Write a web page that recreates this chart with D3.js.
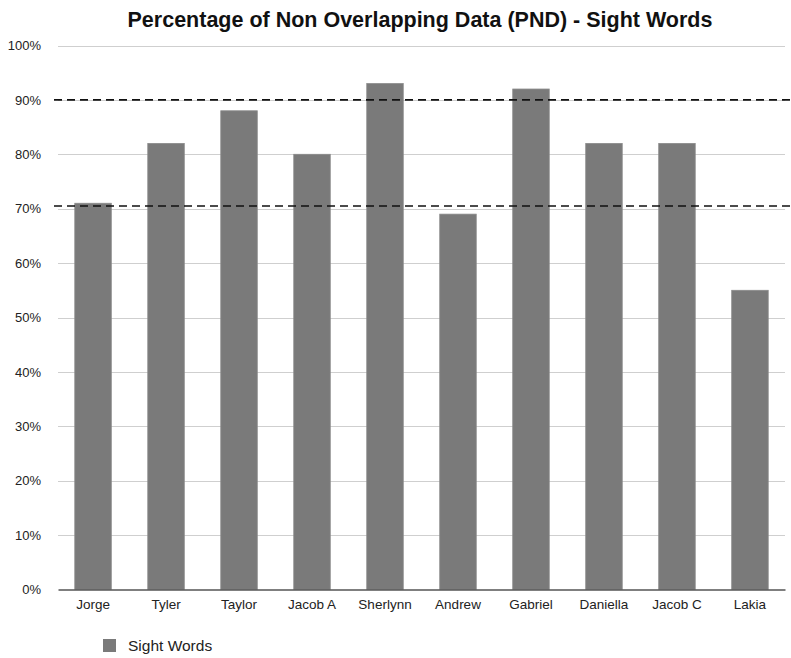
<!DOCTYPE html>
<html>
<head>
<meta charset="utf-8">
<script src="https://cdn.jsdelivr.net/npm/d3@7"></script>
<style>
  body { margin: 0; background: #fff; }
  text { font-family: "Liberation Sans", Arial, sans-serif; }
</style>
</head>
<body>
<div id="barchart"><svg width="791" height="658"></svg></div>
<script>
// data
var students = ["Jorge", "Tyler", "Taylor", "Jacob A", "Sherlynn", "Andrew", "Gabriel", "Daniella", "Jacob C", "Lakia"];
var sightWords = [71, 82, 88, 80, 93, 69, 92, 82, 82, 55];
var yTicks = [0, 10, 20, 30, 40, 50, 60, 70, 80, 90, 100];
var refLines = [90, 70.5];
var seriesName = "Sight Words";
var chartTitle = "Percentage of Non Overlapping Data (PND) - Sight Words";

var svg = d3.select("#barchart").select("svg");
var plotLeft = 58, plotRight = 785, plotTop = 45.5, plotBottom = 589.5;

var xScale = d3.scaleBand()
    .domain(students)
    .range([plotLeft, plotRight])
    .paddingInner(0.5)
    .paddingOuter(0.23);

var yScale = d3.scaleLinear()
    .domain([0, 100])
    .range([plotBottom, plotTop]);

svg.append("text")
    .attr("x", 420)
    .attr("y", 27)
    .attr("text-anchor", "middle")
    .attr("font-size", "21.5px")
    .attr("font-weight", "bold")
    .attr("fill", "#111")
    .text(chartTitle);

// gridlines
svg.selectAll(".grid")
    .data(yTicks.filter(d => d > 0))
    .enter()
    .append("line")
    .classed("grid", true)
    .attr("x1", plotLeft)
    .attr("x2", plotRight)
    .attr("y1", d => Math.round(yScale(d)) + 0.5)
    .attr("y2", d => Math.round(yScale(d)) + 0.5)
    .attr("stroke", "#cfcfcf")
    .attr("stroke-width", 1.2);

// y axis labels
var yAxis = d3.axisLeft(yScale)
    .tickValues(yTicks)
    .tickFormat(d => d + "%")
    .tickSize(0)
    .tickPadding(0);

var yg = svg.append("g")
    .attr("transform", "translate(41,0)")
    .call(yAxis);
yg.select(".domain").remove();
yg.selectAll("text")
    .attr("font-size", "13px")
    .attr("fill", "#222")
    .style("font-family", "'Liberation Sans', Arial, sans-serif");

// bars
svg.selectAll(".bar")
    .data(sightWords)
    .enter()
    .append("rect")
    .classed("bar", true)
    .attr("x", (d, i) => xScale(students[i]))
    .attr("y", d => yScale(d))
    .attr("width", xScale.bandwidth())
    .attr("height", d => plotBottom - yScale(d))
    .attr("fill", "#7a7a7a")
    .attr("stroke", "#8a8a8a")
    .attr("stroke-width", 0.8);

// baseline + x labels
var xAxis = d3.axisBottom(xScale)
    .tickSize(0)
    .tickPadding(10);

var xg = svg.append("g")
    .attr("transform", "translate(0," + plotBottom + ")")
    .call(xAxis);
xg.select(".domain")
    .attr("stroke", "#555")
    .attr("stroke-width", 1.5);
xg.selectAll("text")
    .attr("font-size", "13.5px")
    .attr("fill", "#222")
    .style("font-family", "'Liberation Sans', Arial, sans-serif");

// dashed reference lines
svg.selectAll(".ref")
    .data(refLines)
    .enter()
    .append("line")
    .classed("ref", true)
    .attr("x1", 54)
    .attr("x2", 791)
    .attr("y1", d => yScale(d))
    .attr("y2", d => yScale(d))
    .attr("stroke", "#111")
    .attr("stroke-width", 1.6)
    .attr("stroke-dasharray", "8,5");

// legend
svg.append("rect")
    .attr("x", 103)
    .attr("y", 639)
    .attr("width", 13)
    .attr("height", 13)
    .attr("fill", "#7a7a7a");

svg.append("text")
    .attr("x", 128)
    .attr("y", 651)
    .attr("font-size", "15.5px")
    .attr("fill", "#222")
    .text(seriesName);
</script>
</body>
</html>
